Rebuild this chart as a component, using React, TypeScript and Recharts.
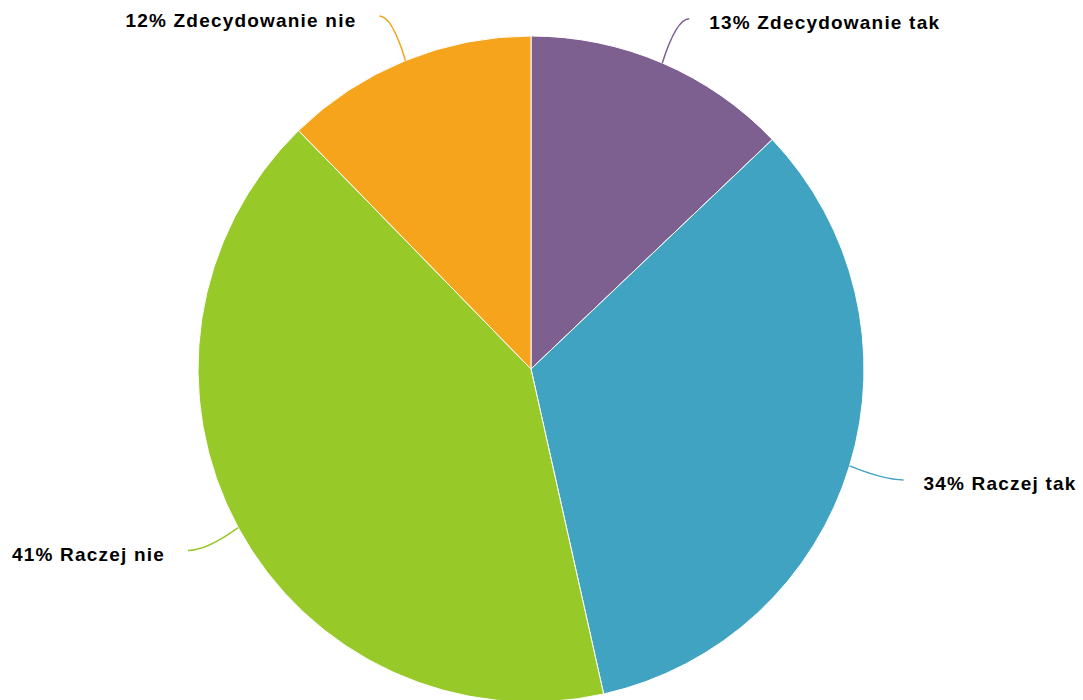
import { Cell, Pie, PieChart } from "recharts";

const answers = ["Zdecydowanie tak", "Raczej tak", "Raczej nie", "Zdecydowanie nie"];
const shares = [12.9, 33.6, 41.2, 12.3];
const colors = ["#7e6090", "#41a3c2", "#97c928", "#f5a41b"];

const data = answers.map((name, i) => ({ name, value: shares[i] }));

const RAD = Math.PI / 180;

// soft connector: leaves the slice radially, then bends into a short horizontal run
const connectorPoints = (props: any) => {
  const { cx, cy, midAngle, outerRadius } = props;
  const cos = Math.cos(-midAngle * RAD);
  const sin = Math.sin(-midAngle * RAD);
  const sx = cx + outerRadius * cos;
  const sy = cy + outerRadius * sin;
  const ex0 = cx + (outerRadius + 48) * cos;
  const ey = cy + (outerRadius + 48) * sin;
  const right = cos >= 0;
  const ex = ex0 + (right ? 8 : -8);
  return { sx, sy, ex0, ey, ex, right };
};

const renderLine = (props: any) => {
  const { sx, sy, ex0, ey, ex } = connectorPoints(props);
  const cx1 = sx + (ex0 - sx) * 0.75;
  return (
    <path
      d={`M${sx},${sy} Q${cx1},${ey} ${ex},${ey}`}
      stroke={props.payload?.fill || props.stroke}
      fill="none"
      strokeWidth={1.5}
    />
  );
};

const renderLabel = (props: any) => {
  const { ey, ex, right } = connectorPoints(props);
  const pct = Math.round(props.percent * 100);
  return (
    <text
      x={ex + (right ? 20 : -23)}
      y={ey + 4}
      textAnchor={right ? "start" : "end"}
      dominantBaseline="central"
      fontFamily="Liberation Sans, Arial, sans-serif"
      fontWeight="bold"
      fontSize={19}
      letterSpacing={1.2}
      fill="#000"
    >
      {`${pct}% ${props.name}`}
    </text>
  );
};

export default function App() {
  return (
    <div style={{ position: "absolute", left: 0, top: 0, background: "#fff" }}>
      <PieChart width={1083} height={700} margin={{ top: 0, right: 0, bottom: 0, left: 0 }}>
        <Pie
          data={data.map((d, i) => ({ ...d, fill: colors[i] }))}
          dataKey="value"
          nameKey="name"
          cx={531}
          cy={369}
          outerRadius={333}
          startAngle={90}
          endAngle={-270}
          stroke="#fff"
          strokeWidth={1}
          label={renderLabel}
          labelLine={renderLine}
          isAnimationActive={false}
        >
          {data.map((d, i) => (
            <Cell key={d.name} fill={colors[i]} />
          ))}
        </Pie>
      </PieChart>
    </div>
  );
}
